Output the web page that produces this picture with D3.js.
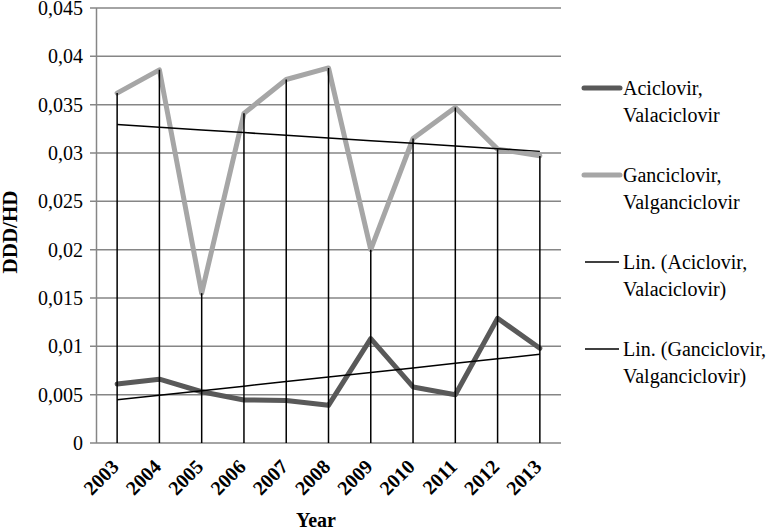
<!DOCTYPE html>
<html>
<head>
<meta charset="utf-8">
<script src="https://cdn.jsdelivr.net/npm/d3@7"></script>
</head>
<body style="margin:0">
<script>
// data
var years = ['2003', '2004', '2005', '2006', '2007', '2008', '2009', '2010', '2011', '2012', '2013'];
var aciclovir = [0.0061, 0.0066, 0.0053, 0.00445, 0.0044, 0.0039, 0.0108, 0.0058, 0.0050, 0.0129, 0.0098];
var ganciclovir = [0.0362, 0.0386, 0.0155, 0.0341, 0.0376, 0.0388, 0.0200, 0.0315, 0.0347, 0.0304, 0.0297];
var yTicks = [0, 0.005, 0.01, 0.015, 0.02, 0.025, 0.03, 0.035, 0.04, 0.045];
var legendLabels = [
  ['Aciclovir,', 'Valaciclovir'],
  ['Ganciclovir,', 'Valganciclovir'],
  ['Lin. (Aciclovir,', 'Valaciclovir)'],
  ['Lin. (Ganciclovir,', 'Valganciclovir)']
];

var width = 780,
    height = 531;

var serif = 'Liberation Serif';

var darkGray = '#595959',
    lightGray = '#a6a6a6',
    gridGray = '#868686';

var x = d3.scalePoint()
    .domain(years)
    .range([96, 561])
    .padding(0.5);

var y = d3.scaleLinear()
    .domain([0, 0.045])
    .range([443, 8]);

var svg = d3.select('body').append('svg')
    .attr('width', width)
    .attr('height', height);

// linear trend (least squares on index)
function trend(values) {
  var mx = d3.mean(values, function(d, i) { return i; }),
      my = d3.mean(values),
      sxy = d3.sum(values, function(d, i) { return (i - mx) * (d - my); }),
      sxx = d3.sum(values, function(d, i) { return (i - mx) * (i - mx); }),
      b = sxy / sxx;
  return values.map(function(d, i) { return my + b * (i - mx); });
}

// gridlines + tick marks
svg.append('g')
    .selectAll('line')
    .data(yTicks)
  .enter().append('line')
    .attr('x1', 90)
    .attr('x2', 561)
    .attr('y1', function(d) { return y(d); })
    .attr('y2', function(d) { return y(d); })
    .attr('stroke', gridGray)
    .attr('stroke-width', 1.5);

// y axis line
svg.append('line')
    .attr('x1', 96.5).attr('x2', 96.5)
    .attr('y1', y(0.045)).attr('y2', y(0))
    .attr('stroke', gridGray)
    .attr('stroke-width', 1.5);

// y tick labels
svg.append('g')
    .selectAll('text')
    .data(yTicks)
  .enter().append('text')
    .attr('x', 83)
    .attr('y', function(d) { return y(d) + 7; })
    .attr('text-anchor', 'end')
    .attr('font-family', serif)
    .attr('font-weight', 400)
    .attr('font-size', 20)
    .text(function(d) { return String(d).replace('.', ','); });

// x tick labels
svg.append('g')
    .selectAll('text')
    .data(years)
  .enter().append('text')
    .attr('transform', function(d) { return 'translate(' + (x(d) + 3) + ',468) rotate(-45)'; })
    .attr('text-anchor', 'end')
    .attr('font-family', serif)
    .attr('font-weight', 700)
    .attr('font-size', 20)
    .text(function(d) { return d; });

// axis titles
svg.append('text')
    .attr('transform', 'translate(17,232) rotate(-90)')
    .attr('text-anchor', 'middle')
    .attr('font-family', serif)
    .attr('font-weight', 700)
    .attr('font-size', 21)
    .text('DDD/HD');

svg.append('text')
    .attr('x', 316)
    .attr('y', 527)
    .attr('text-anchor', 'middle')
    .attr('font-family', serif)
    .attr('font-weight', 700)
    .attr('font-size', 20)
    .text('Year');

var line = d3.line()
    .x(function(d, i) { return x(years[i]); })
    .y(function(d) { return y(d); });

// series lines
[[aciclovir, darkGray], [ganciclovir, lightGray]].forEach(function(s) {
  svg.append('path')
      .datum(s[0])
      .attr('d', line)
      .attr('fill', 'none')
      .attr('stroke', s[1])
      .attr('stroke-width', 5)
      .attr('stroke-linejoin', 'round')
      .attr('stroke-linecap', 'round');
});

// drop lines from the top value down to the axis
svg.append('g')
    .selectAll('line')
    .data(years)
  .enter().append('line')
    .attr('x1', function(d) { return x(d); })
    .attr('x2', function(d) { return x(d); })
    .attr('y1', y(0))
    .attr('y2', function(d, i) { return y(Math.max(aciclovir[i], ganciclovir[i])); })
    .attr('stroke', '#000')
    .attr('stroke-width', 1.5);

// trend lines
[aciclovir, ganciclovir].forEach(function(vals) {
  svg.append('path')
      .datum(trend(vals))
      .attr('d', line)
      .attr('fill', 'none')
      .attr('stroke', '#000')
      .attr('stroke-width', 1.5);
});

// legend
var legendStyles = [
  { color: darkGray, w: 5, x1: 584, x2: 620 },
  { color: lightGray, w: 5, x1: 584, x2: 620 },
  { color: '#000', w: 1.5, x1: 585, x2: 619 },
  { color: '#000', w: 1.5, x1: 585, x2: 619 }
];

var legend = svg.append('g')
    .selectAll('g')
    .data(legendLabels)
  .enter().append('g')
    .attr('transform', function(d, i) { return 'translate(0,' + (88 + i * 87) + ')'; });

legend.append('line')
    .attr('x1', function(d, i) { return legendStyles[i].x1; })
    .attr('x2', function(d, i) { return legendStyles[i].x2; })
    .attr('stroke', function(d, i) { return legendStyles[i].color; })
    .attr('stroke-width', function(d, i) { return legendStyles[i].w; })
    .attr('stroke-linecap', function(d, i) { return i < 2 ? 'round' : 'butt'; });

legend.selectAll('text')
    .data(function(d) { return d; })
  .enter().append('text')
    .attr('x', 623)
    .attr('y', function(d, j) { return 7 + j * 27; })
    .attr('font-family', serif)
    .attr('font-weight', 400)
    .attr('font-size', 20)
    .text(function(d) { return d; });
</script>
</body>
</html>
